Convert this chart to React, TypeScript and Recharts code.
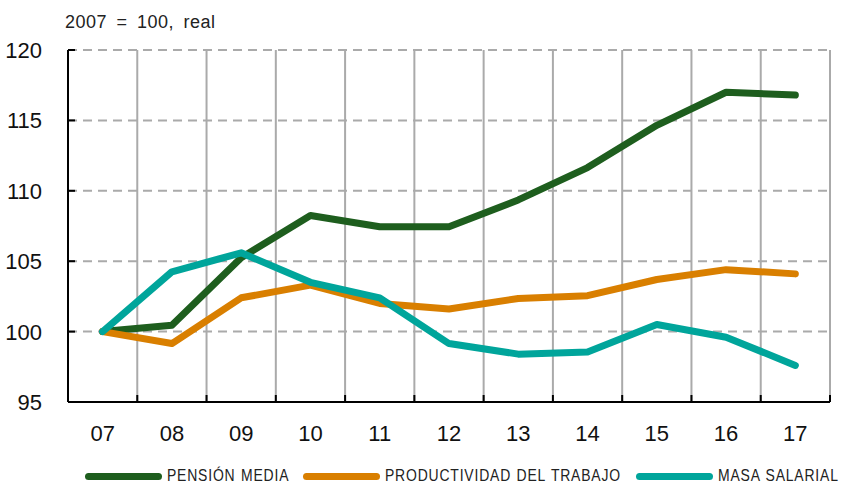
import { LineChart, Line, XAxis, YAxis, CartesianGrid } from 'recharts';

const years = ['07', '08', '09', '10', '11', '12', '13', '14', '15', '16', '17'];
const pensionMedia = [100, 100.45, 105.25, 108.25, 107.45, 107.45, 109.35, 111.65, 114.65, 117.0, 116.8];
const productividad = [100, 99.15, 102.4, 103.3, 102.0, 101.6, 102.35, 102.55, 103.7, 104.4, 104.1];
const masaSalarial = [100, 104.25, 105.6, 103.5, 102.4, 99.15, 98.4, 98.55, 100.5, 99.6, 97.6];
const yTicks = [95, 100, 105, 110, 115, 120];

const data = years.map((year, i) => ({
  year,
  pension: pensionMedia[i],
  productividad: productividad[i],
  masa: masaSalarial[i],
}));

const GREEN = '#1e5e1e';
const ORANGE = '#d97f00';
const TEAL = '#00a59b';
const GRID = '#aaaaaa';
const FONT = '"Liberation Sans", Arial, sans-serif';

const legendItems = [
  { label: 'PENSIÓN MEDIA', color: GREEN, left: 85 },
  { label: 'PRODUCTIVIDAD DEL TRABAJO', color: ORANGE, left: 303 },
  { label: 'MASA SALARIAL', color: TEAL, left: 636 },
];

// label sits tickMargin left of the axis, tick mark points inward
const YTick = (props: any) => {
  const { x, y, payload } = props;
  const ax = x + 26;
  return (
    <g>
      <line x1={ax} x2={ax + 7} y1={y} y2={y} stroke="#000" strokeWidth={2} />
      <text x={x} y={y} dy="0.36em" textAnchor="end" fill="#111" fontSize={22} fontFamily={FONT}>
        {payload.value}
      </text>
    </g>
  );
};

// year label at band centre, tick marks on the band edges pointing up
const XTick = (props: any) => {
  const { x, y, payload, index, width } = props;
  const half = (Number(width) || 761) / years.length / 2;
  const ay = y - 23;
  return (
    <g>
      <line x1={x - half} x2={x - half} y1={ay} y2={ay - 7} stroke="#000" strokeWidth={2} />
      {index === years.length - 1 && (
        <line x1={x + half} x2={x + half} y1={ay} y2={ay - 7} stroke="#000" strokeWidth={2} />
      )}
      <text x={x} y={y} dy="0.71em" textAnchor="middle" fill="#111" fontSize={22} fontFamily={FONT}>
        {payload.value}
      </text>
    </g>
  );
};

const verticalEdges = ({ offset }: any) =>
  years.concat(['']).map((_, i) => offset.left + (i * offset.width) / years.length);

export default function App() {
  return (
    <div style={{ position: 'absolute', left: 0, top: 0, width: 845, height: 488, background: '#fff', fontFamily: FONT }}>
      <div
        style={{
          position: 'absolute',
          left: 65,
          top: 13,
          fontSize: 18,
          lineHeight: '18px',
          letterSpacing: 0.5,
          wordSpacing: 4,
          color: '#222',
          whiteSpace: 'nowrap',
        }}
      >
        2007 = 100, real
      </div>
      <LineChart width={845} height={488} data={data} margin={{ top: 50, right: 15, bottom: 46, left: 0 }}>
        <CartesianGrid vertical={false} stroke={GRID} strokeWidth={2} strokeDasharray="9 6" />
        <CartesianGrid horizontal={false} stroke={GRID} strokeWidth={2} verticalCoordinatesGenerator={verticalEdges} />
        <XAxis
          dataKey="year"
          scale="band"
          height={40}
          axisLine={{ stroke: '#000', strokeWidth: 2 }}
          tickLine={false}
          tickSize={0}
          tickMargin={23}
          interval={0}
          tick={<XTick />}
        />
        <YAxis
          domain={[95, 120]}
          ticks={yTicks}
          width={68}
          tickSize={0}
          tickMargin={26}
          axisLine={{ stroke: '#000', strokeWidth: 2 }}
          tickLine={false}
          tick={<YTick />}
        />
        <Line dataKey="pension" stroke={GREEN} strokeWidth={7} strokeLinecap="round" strokeLinejoin="round" dot={false} isAnimationActive={false} />
        <Line dataKey="productividad" stroke={ORANGE} strokeWidth={7} strokeLinecap="round" strokeLinejoin="round" dot={false} isAnimationActive={false} />
        <Line dataKey="masa" stroke={TEAL} strokeWidth={7} strokeLinecap="round" strokeLinejoin="round" dot={false} isAnimationActive={false} />
      </LineChart>
      {legendItems.map((it) => (
        <div key={it.label} style={{ position: 'absolute', left: it.left, top: 466, display: 'flex', alignItems: 'center' }}>
          <div style={{ width: 77, height: 7, borderRadius: 4, background: it.color }} />
          <span
            style={{
              display: 'inline-block',
              marginLeft: 5,
              fontSize: 17,
              lineHeight: '20px',
              letterSpacing: 1,
              wordSpacing: 1,
              color: '#222',
              whiteSpace: 'nowrap',
              transform: 'scaleX(0.82)',
              transformOrigin: 'left center',
            }}
          >
            {it.label}
          </span>
        </div>
      ))}
    </div>
  );
}
